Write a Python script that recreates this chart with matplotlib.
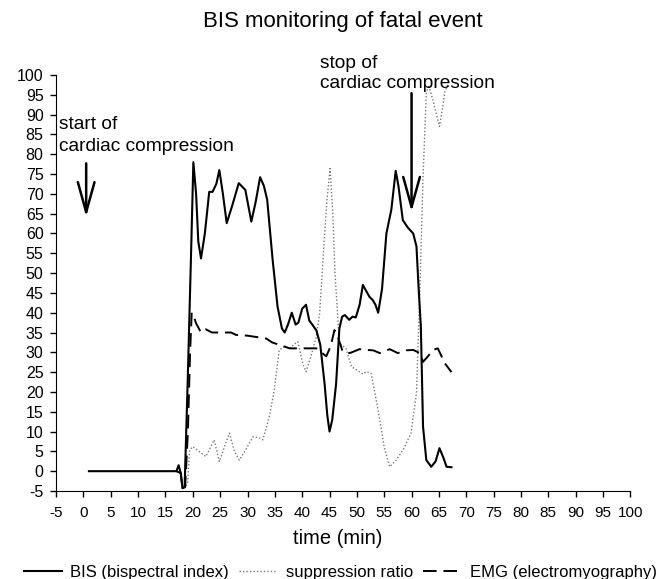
import matplotlib
matplotlib.use("Agg")
import matplotlib.pyplot as plt

plt.rcParams["font.family"] = ["Liberation Sans", "DejaVu Sans"]
plt.rcParams["axes.unicode_minus"] = False

# ── Data ─────────────────────────────────────────────────────────────────────
bis_t = [1, 17.0, 17.4, 17.8, 18.1, 18.5, 19.05, 19.7, 20.1, 20.6,
         21.0, 21.5, 22.2, 23.0, 23.6, 24.3, 24.85, 25.5, 26.2, 27.2,
         28.4, 29.6, 30.7, 31.5, 32.3, 33.0, 33.6, 34.6, 35.5, 36.3,
         36.8, 37.4, 38.1, 38.8, 39.3, 40.0, 40.7, 41.3, 41.9, 42.6,
         43.3, 44.1, 44.6, 45.0, 45.5, 46.2, 46.8, 47.3, 47.8, 48.6,
         49.2, 49.8, 50.5, 51.1, 51.7, 52.3, 52.9, 53.4, 53.9, 54.6,
         55.4, 56.3, 57.1, 57.6, 58.4, 59.3, 60.3, 60.9, 61.3, 61.7,
         62.1, 62.7, 63.6, 64.4, 65.1, 65.8, 66.4, 67.3]
bis_v = [0, 0, 1.5, -0.5, -4.3, -4.0, 22, 56, 78, 70,
         58, 53.7, 60, 70.5, 70.5, 72.5, 76, 70, 62.6, 67,
         72.7, 71, 63, 68, 74.2, 72, 68.5, 53.3, 41.5, 36,
         35, 37, 40, 37, 37.5, 41, 42, 38, 36.9, 35.5,
         32, 22, 14, 10, 13, 22, 36, 39, 39.4, 38.2,
         39, 38.8, 42, 47, 45.5, 44, 43.2, 42, 40, 46,
         60, 66, 75.8, 72, 63.4, 61.5, 60, 56.7, 46, 36.5,
         11.2, 2.8, 1.1, 2.5, 5.8, 3.5, 1.1, 1.0]

sr_t = [17.0, 17.8, 18.1, 18.6, 19.05, 19.4, 20.0, 21.2, 22.4, 23.9,
        24.85, 26.0, 26.7, 27.6, 28.5, 29.5, 31.0, 32.0, 32.8, 34.0,
        34.9, 35.8, 36.8, 37.7, 38.5, 39.2, 40.1, 40.7, 41.6, 42.6,
        43.2, 43.8, 44.5, 45.1, 45.6, 46.0, 46.8, 48.0, 49.0, 50.0,
        51.1, 51.7, 52.6, 53.4, 54.2, 55.0, 56.0, 57.2, 58.5, 59.9,
        60.9, 61.5, 62.1, 62.7, 63.1, 63.9, 65.1, 65.6, 66.1, 66.6]
sr_v = [0, -0.5, -4.3, -4, -3, 5.3, 6.2, 4.9, 3.7, 7.9,
        2.4, 7, 9.6, 5, 2.8, 5, 8.7, 8.5, 7.9, 13.8,
        20.5, 30.6, 31.5, 31, 32, 32.7, 27.2, 25.1, 29, 34,
        40, 53.3, 68, 76.4, 65, 50, 32.3, 31, 26.4, 25.5,
        24.5, 25.1, 24.7, 19, 12.9, 6, 1.1, 2.8, 5.5, 9.6,
        19.7, 44.9, 74.3, 95.4, 97.5, 93.7, 87, 91, 95.8, 97.5]

emg_t = [17.0, 17.8, 18.1, 18.6, 19.1, 19.5, 19.8, 20.2, 20.6, 21.5,
         22.4, 23.5, 25.0, 27.0, 27.9, 30.0, 33.4, 34.5, 35.8, 37.7,
         40.0, 42.6, 43.5, 44.4, 45.2, 45.9, 46.5, 47.4, 48.7, 50.5,
         51.7, 53.0, 54.2, 56.0, 57.5, 59.0, 60.3, 61.5, 62.1, 63.0,
         63.9, 64.8, 66.1, 67.3]
emg_v = [0, -0.5, -4.3, -4, 10, 30, 40, 39, 37.3, 35,
         35.8, 35, 35, 35, 34.4, 34.2, 33.5, 32.5, 31.9, 31,
         31, 31, 30, 29, 31.5, 35.6, 34, 30.2, 29.8, 30.8,
         30.6, 30.5, 29.8, 30.8, 29.8, 30.5, 30.6, 29.8, 27.6, 29,
         30.6, 31, 27.2, 25]

ticks = list(range(-5, 101, 5))

# event arrows: time, arrow top, arrow tip
start_evt = (0.5, 77.7, 64.2)
stop_evt = (60, 95.4, 65.5)

# ── Figure ───────────────────────────────────────────────────────────────────
fig = plt.figure(figsize=(6.6, 5.79), dpi=100)
ax = fig.add_axes([0.085, 0.152, 0.870, 0.7185])

ax.plot(sr_t, sr_v, color="#777777", lw=1.0, ls=(0, (1, 1.5)),
        label="suppression ratio", zorder=2)
ax.plot(emg_t, emg_v, color="black", lw=1.4, ls=(0, (7, 3.5)),
        label="EMG (electromyography)", zorder=3)
ax.plot(bis_t, bis_v, color="black", lw=1.5,
        label="BIS (bispectral index)", zorder=4)

ax.set_xlim(-5, 100)
ax.set_ylim(-5, 100)
ax.set_xticks(ticks)
ax.set_yticks(ticks)
ax.tick_params(direction="out", length=4.5, width=1)
ax.tick_params(axis="x", labelsize=11, pad=6.5)
ax.tick_params(axis="y", labelsize=11.5, pad=4.5)
ax.spines[["top", "right"]].set_visible(False)

fig.text(343 / 660, 1 - 21.7 / 579, "BIS monitoring of fatal event",
         fontsize=16, ha="center", va="center")
fig.text(337.5 / 660, 1 - 538 / 579, "time (min)",
         fontsize=14.5, ha="center", va="center")

arrow_kw = dict(arrowstyle="->,head_length=1.08,head_width=0.3", lw=1.8,
                color="black", mutation_scale=20, shrinkA=0, shrinkB=0)
for t, y0, y1 in [start_evt, stop_evt]:
    ax.annotate("", xy=(t, y1), xytext=(t, y0), arrowprops=arrow_kw,
                annotation_clip=False)

txt_kw = dict(fontsize=13.8, ha="left", va="center", clip_on=False)
ax.text(-4.45, 87.4, "start of", **txt_kw)
ax.text(-4.45, 81.9, "cardiac compression", **txt_kw)
ax.text(43.2, 103.0, "stop of", **txt_kw)
ax.text(43.2, 97.9, "cardiac compression", **txt_kw)

handles, labels = ax.get_legend_handles_labels()
order = [2, 0, 1]
fig.legend([handles[i] for i in order], [labels[i] for i in order],
           loc="center", bbox_to_anchor=(340 / 660, 1 - 572 / 579), ncol=3,
           frameon=False, fontsize=12, handlelength=2.3,
           columnspacing=0.6, handletextpad=0.5, borderpad=0)

fig.savefig("out.png", dpi=100)
